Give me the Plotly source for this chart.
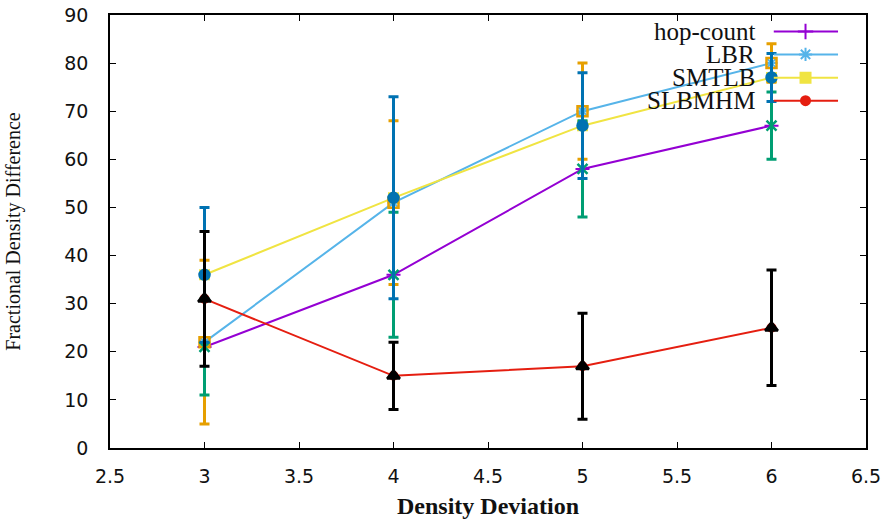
import plotly.graph_objects as go

# Density deviation values on the x axis
density_dev = [3, 4, 5, 6]

# Mean fractional density difference per scheme, with its spread
hop_count = [21, 36, 58, 67]
hop_count_err = [10, 13, 10, 7]
lbr = [22, 51, 70, 80]
lbr_err = [17, 17, 10, 4]
smtlb = [36, 52, 67, 77]
smtlb_err = [14, 21, 11, 5]
slbmhm = [31, 15, 17, 25]
slbmhm_err = [14, 7, 11, 12]

series_names = ["hop-count", "LBR", "SMTLB", "SLBMHM"]

x_ticks = [2.5, 3, 3.5, 4, 4.5, 5, 5.5, 6, 6.5]
y_ticks = [0, 10, 20, 30, 40, 50, 60, 70, 80, 90]

PURPLE = "#9400D3"
LIGHTBLUE = "#56B4E9"
YELLOW = "#F0E442"
RED = "#E51E10"
ORANGE = "#E69F00"
GREEN = "#009E73"
BLUE = "#0072B2"
BLACK = "#000000"

fig = go.Figure()

# Mean lines
line_specs = [
    (hop_count, PURPLE, "cross-thin", 10),
    (lbr, LIGHTBLUE, "asterisk", 10),
    (smtlb, YELLOW, "square", 9),
    (slbmhm, RED, "circle", 8),
]
for name, (vals, col, sym, size) in zip(series_names, line_specs):
    fig.add_trace(go.Scatter(
        x=density_dev, y=vals, mode="lines+markers", name=name,
        line=dict(color=col, width=2),
        marker=dict(symbol=sym, size=size, color=col, line=dict(color=col, width=2)),
        showlegend=False,
    ))

# Error bars drawn over the lines
err_specs = [
    (lbr, lbr_err, ORANGE, "square-open", 10),
    (hop_count, hop_count_err, GREEN, "x-thin", 10),
    (smtlb, smtlb_err, BLUE, "circle", 10),
    (slbmhm, slbmhm_err, BLACK, "triangle-up", 11),
]
for vals, errs, col, sym, size in err_specs:
    fig.add_trace(go.Scatter(
        x=density_dev, y=vals, mode="markers",
        marker=dict(symbol=sym, size=size, color=col, line=dict(color=col, width=2.5)),
        error_y=dict(type="data", array=errs, visible=True, color=col,
                     thickness=3, width=5),
        showlegend=False,
    ))

# Key in the upper right corner: label text right-aligned before a line sample
key_rows_y = [0.962, 0.909, 0.855, 0.802]
key_line_x = [0.878, 0.963]
key_mark_x = 0.920
key_text_x = 0.856
for name, (vals, col, sym, size), ky in zip(series_names, line_specs, key_rows_y):
    fig.add_trace(go.Scatter(
        x=key_line_x, y=[ky, ky], mode="lines", xaxis="x2", yaxis="y2",
        line=dict(color=col, width=2), showlegend=False, hoverinfo="skip",
    ))
    fig.add_trace(go.Scatter(
        x=[key_mark_x], y=[ky], mode="markers", xaxis="x2", yaxis="y2",
        marker=dict(symbol=sym, size=size + 1, color=col, line=dict(color=col, width=2)),
        showlegend=False, hoverinfo="skip",
    ))
    fig.add_annotation(
        x=key_text_x, y=ky, xref="x2", yref="y2", text=name, showarrow=False,
        xanchor="right", yanchor="middle",
        font=dict(family="Liberation Serif", size=25, color="#111111"),
    )

axis_common = dict(
    showgrid=False, zeroline=False, showline=True, linecolor="black", linewidth=1.5,
    mirror="ticks", ticks="inside", ticklen=6, tickwidth=1, tickcolor="black",
    tickfont=dict(family="DejaVu Sans", size=19, color="#111111"),
    automargin=False,
)

fig.update_layout(
    width=884, height=525,
    margin=dict(l=110, r=18, t=15, b=77),
    paper_bgcolor="white", plot_bgcolor="white",
    xaxis=dict(
        range=[2.5, 6.5], tickvals=x_ticks, ticktext=[f"{v:g}" for v in x_ticks],
        ticklabelstandoff=10,
        title=dict(text="<b>Density Deviation</b>", standoff=12,
                   font=dict(family="Liberation Serif", size=24, color="#111111")),
        **axis_common,
    ),
    yaxis=dict(
        range=[0, 90], tickvals=y_ticks, ticktext=[str(v) for v in y_ticks],
        ticklabelstandoff=16,
        title=dict(text="Fractional Density Difference", standoff=38,
                   font=dict(family="Liberation Serif", size=20, color="#111111")),
        **axis_common,
    ),
    xaxis2=dict(overlaying="x", range=[0, 1], visible=False, domain=[0, 1]),
    yaxis2=dict(overlaying="y", range=[0, 1], visible=False),
    showlegend=False,
)

fig.write_html("out.html")
